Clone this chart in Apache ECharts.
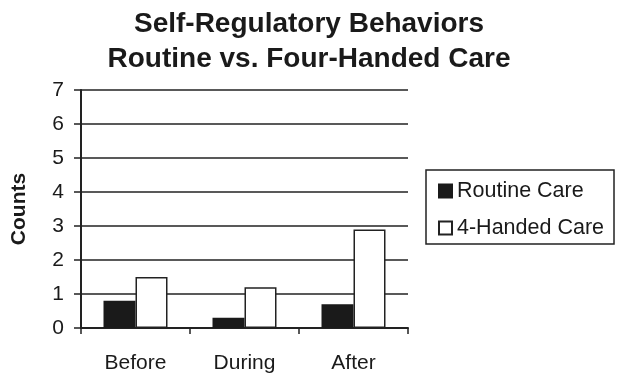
<!DOCTYPE html>
<html><head><meta charset="utf-8">
<script src="https://cdn.jsdelivr.net/npm/echarts@6/dist/echarts.min.js"></script>
<style>html,body{margin:0;padding:0;background:#fff}#c{width:624px;height:384px}</style>
</head><body><div id="c"></div>
<script>
var categories = ['Before', 'During', 'After'];
var routineCare = [0.8, 0.3, 0.7];
var fourHandedCare = [1.5, 1.2, 2.9];
var yTicks = [0, 1, 2, 3, 4, 5, 6, 7];
var titleLines = ['Self-Regulatory Behaviors', 'Routine vs. Four-Handed Care'];
var chart = echarts.init(document.getElementById('c'), null, {renderer: 'canvas'});
var font = 'Liberation Sans, Arial, sans-serif';
chart.setOption({
  animation: false,
  backgroundColor: '#fff',
  title: {
    text: titleLines.join('\n'),
    left: 304, top: 2, textAlign: 'center',
    textStyle: {fontFamily: font, fontWeight: 'bold', fontSize: 28, lineHeight: 35, color: '#1a1a1a'}
  },
  legend: {
    orient: 'vertical', left: 426, top: 170, width: 187,
    padding: [10, 10, 5, 12], itemGap: 15,
    borderColor: '#222', borderWidth: 1.5,
    itemWidth: 13, itemHeight: 13, icon: 'rect',
    textStyle: {fontFamily: font, fontSize: 21.5, color: '#1a1a1a'},
    data: ['Routine Care', '4-Handed Care']
  },
  grid: {left: 81, right: 216, top: 90, bottom: 56, outerBoundsMode: 'none', containLabel: false},
  xAxis: {
    type: 'category', data: categories,
    axisLine: {lineStyle: {color: '#222', width: 2}},
    axisTick: {show: true, length: 6, lineStyle: {color: '#222', width: 1.5}},
    axisLabel: {fontFamily: font, fontSize: 21, color: '#1a1a1a', margin: 25}
  },
  yAxis: {
    type: 'value', min: yTicks[0], max: yTicks[yTicks.length - 1], interval: 1,
    name: 'Counts', nameLocation: 'middle', nameGap: 51, nameRotate: 90,
    nameTextStyle: {fontFamily: font, fontWeight: 'bold', fontSize: 21, color: '#1a1a1a'},
    axisLine: {show: true, lineStyle: {color: '#222', width: 2}},
    axisTick: {show: true, length: 7, lineStyle: {color: '#222', width: 1.5}},
    axisLabel: {fontFamily: font, fontSize: 21, color: '#1a1a1a', margin: 17},
    splitLine: {show: true, lineStyle: {color: '#222', width: 1.5}}
  },
  series: [
    {name: 'Routine Care', type: 'bar', data: routineCare, barWidth: 32, barGap: '0%',
     itemStyle: {color: '#1a1a1a', borderColor: '#1a1a1a', borderWidth: 1.5}},
    {name: '4-Handed Care', type: 'bar', data: fourHandedCare, barWidth: 32, barGap: '0%',
     itemStyle: {color: '#fff', borderColor: '#222', borderWidth: 1.5}}
  ]
});
</script></body></html>
